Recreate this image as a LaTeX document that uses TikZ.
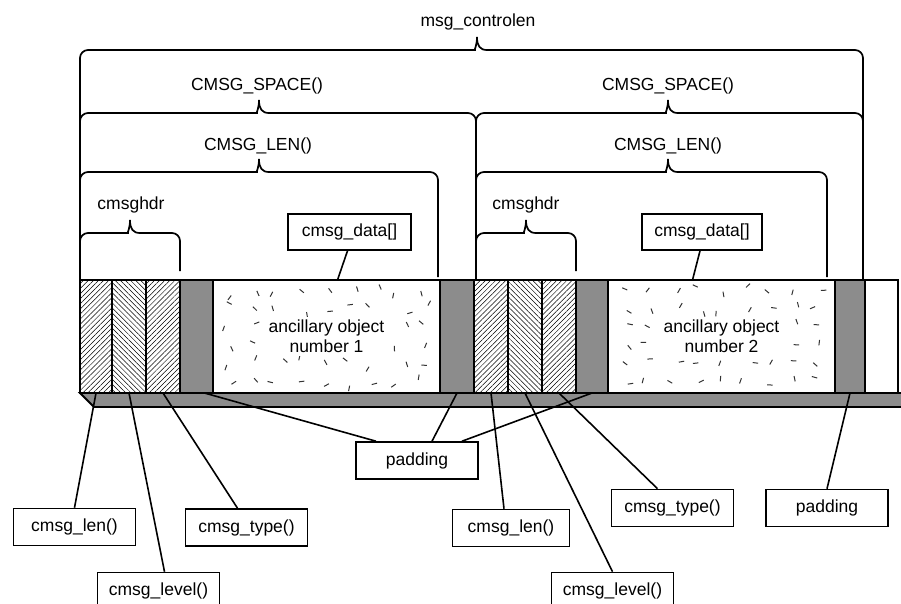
\documentclass[tikz,border=0pt]{standalone}
\usepackage{fontspec}
\setmainfont{Liberation Sans}
\usetikzlibrary{patterns.meta, positioning}

\begin{document}
\begin{tikzpicture}[
        x=1pt, y=-1pt,
        font=\fontsize{17.5}{20}\selectfont,
        seg/.style={draw=black, line width=1.8pt, inner sep=0pt, outer sep=0pt, minimum height=113pt, anchor=north west},
        fwdhatch/.style={seg, pattern={Lines[angle=45, distance=3.6pt, line width=0.5pt]}},
        backhatch/.style={seg, pattern={Lines[angle=-45, distance=3.6pt, line width=0.5pt]}},
        padseg/.style={seg, fill=black!45},
        dataseg/.style={seg, fill=white},
        tag/.style={draw=black, line width=1.6pt, fill=white, minimum width=122pt, minimum height=37pt, inner sep=2pt},
        objtext/.style={fill=white, align=center, inner sep=3pt},
        brace/.style={line width=1.7pt},
        leader/.style={line width=1.6pt}
    ]
        \useasboundingbox (0,0) rectangle (901,603);
        \clip (0,0) rectangle (901,603);

        % underside of the buffer
        \draw[line width=1.8pt, fill=black!45] (80,393) -- (94,407) -- (905,407) -- (905,393) -- cycle;

        % buffer segments
        \node[fwdhatch, minimum width=32pt] (len1) at (80,280) {};
        \node[backhatch, minimum width=34pt] (level1) at (112,280) {};
        \node[fwdhatch, minimum width=34pt] (type1) at (146,280) {};
        \node[padseg, minimum width=33pt] (pad1) at (180,280) {};
        \node[dataseg, minimum width=227pt] (data1) at (213,280) {};
        \node[padseg, minimum width=34pt] (pad2) at (440,280) {};
        \node[fwdhatch, minimum width=34pt] (len2) at (474,280) {};
        \node[backhatch, minimum width=34pt] (level2) at (508,280) {};
        \node[fwdhatch, minimum width=34pt] (type2) at (542,280) {};
        \node[padseg, minimum width=32pt] (pad3) at (576,280) {};
        \node[dataseg, minimum width=227pt] (data2) at (608,280) {};
        \node[padseg, minimum width=30pt] (pad4) at (835,280) {};
        \node[dataseg, minimum width=33pt] (tail) at (865,280) {};

        % speckles in the data parts
        \pgfmathsetseed{11}
        \foreach \xo in {213,608} {
            \foreach \col in {0,...,8} {
                \foreach \row in {0,...,5} {
                    \pgfmathsetmacro{\dx}{\xo+16+\col*24.5+(rnd-0.5)*14}
                    \pgfmathsetmacro{\dy}{291+\row*18+(rnd-0.5)*10}
                    \pgfmathsetmacro{\da}{rnd*360}
                    \draw[line width=1pt, black!80] (\dx,\dy) -- ++(\da:5.5);
                }
            }
        }
        \node[objtext] (obj1) at (data1.center) {ancillary object\\number 1};
        \node[objtext] (obj2) at (data2.center) {ancillary object\\number 2};

        % braces
        \draw[brace] (80,281) [rounded corners=8pt] -- (80,50) -- (467,50) [sharp corners] .. controls (474,50) and (477,46) .. (477,37) .. controls (477,46) and (480,50) .. (487,50) [rounded corners=8pt] -- (863,50) -- (863,279);
        \draw[brace] (80,125) [rounded corners=8pt] -- (80,113) -- (249,113) [sharp corners] .. controls (256,113) and (259,109) .. (259,100) .. controls (259,109) and (262,113) .. (269,113) [rounded corners=8pt] -- (476,113) -- (476,279);
        \draw[brace] (476,125) [rounded corners=8pt] -- (476,113) -- (658,113) [sharp corners] .. controls (665,113) and (668,109) .. (668,100) .. controls (668,109) and (671,113) .. (678,113) [rounded corners=8pt] -- (863,113) -- (863,125);
        \draw[brace] (80,184) [rounded corners=8pt] -- (80,172) -- (249,172) [sharp corners] .. controls (256,172) and (259,168) .. (259,159) .. controls (259,168) and (262,172) .. (269,172) [rounded corners=8pt] -- (438,172) -- (438,277);
        \draw[brace] (476,184) [rounded corners=8pt] -- (476,172) -- (658,172) [sharp corners] .. controls (665,172) and (668,168) .. (668,159) .. controls (668,168) and (671,172) .. (678,172) [rounded corners=8pt] -- (827,172) -- (827,277);
        \draw[brace] (80,245) [rounded corners=8pt] -- (80,233) -- (120,233) [sharp corners] .. controls (127,233) and (130,229) .. (130,220) .. controls (130,229) and (133,233) .. (140,233) [rounded corners=8pt] -- (180,233) -- (180,271);
        \draw[brace] (476,245) [rounded corners=8pt] -- (476,233) -- (516,233) [sharp corners] .. controls (523,233) and (526,229) .. (526,220) .. controls (526,229) and (529,233) .. (536,233) [rounded corners=8pt] -- (576,233) -- (576,271);

        \node (ctrllen) at (478,22) {msg\_controlen};
        \node (space1) at (257,86) {CMSG\_SPACE()};
        \node (space2) at (668,86) {CMSG\_SPACE()};
        \node (cmlen1) at (258,146) {CMSG\_LEN()};
        \node (cmlen2) at (668,146) {CMSG\_LEN()};
        \node (hdr1) at (131,205) {cmsghdr};
        \node (hdr2) at (526,205) {cmsghdr};

        % labels
        \node[tag, minimum width=123pt, minimum height=36pt] (datatag1) at (349.5,232) {cmsg\_data[]};
        \node[tag, minimum width=120pt, minimum height=36pt] (datatag2) at (702,232) {cmsg\_data[]};
        \node[tag] (lentag1) at (74.5,527) {cmsg\_len()};
        \node[tag] (leveltag1) at (158.5,591) {cmsg\_level()};
        \node[tag] (typetag1) at (246.5,527.5) {cmsg\_type()};
        \node[tag] (padtag1) at (417,460.5) {padding};
        \node[tag, minimum width=117pt] (lentag2) at (511,528) {cmsg\_len()};
        \node[tag] (leveltag2) at (612.5,591) {cmsg\_level()};
        \node[tag] (typetag2) at (672.5,508) {cmsg\_type()};
        \node[tag] (padtag2) at (827,508) {padding};

        \draw[leader] ([xshift=-2pt]datatag1.south) -- ([xshift=11pt]data1.north);
        \draw[leader] ([xshift=-2pt]datatag2.south) -- ([xshift=-29pt]data2.north);
        \draw[leader] (lentag1.north) -- (len1.south);
        \draw[leader] ([xshift=6pt]leveltag1.north) -- (level1.south);
        \draw[leader] ([xshift=-9pt]typetag1.north) -- (type1.south);
        \draw[leader] ([xshift=-41pt]padtag1.north) -- ([xshift=8pt]pad1.south);
        \draw[leader] ([xshift=15pt]padtag1.north) -- (pad2.south);
        \draw[leader] ([xshift=45pt]padtag1.north) -- (pad3.south);
        \draw[leader] ([xshift=-7pt]lentag2.north) -- (len2.south);
        \draw[leader] (leveltag2.north) -- (level2.south);
        \draw[leader] ([xshift=-15pt]typetag2.north) -- (type2.south);
        \draw[leader] (padtag2.north) -- (pad4.south);
    \end{tikzpicture}
\end{document}
